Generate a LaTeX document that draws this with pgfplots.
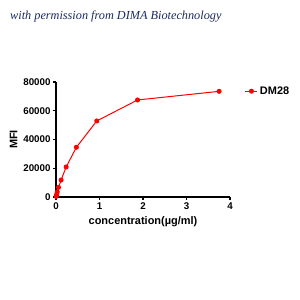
\documentclass[border=0pt]{standalone}
\usepackage{pgfplots}
\pgfplotsset{compat=1.18}
\usepackage{fontspec}
\setmainfont{Liberation Sans}
\newfontfamily\titlefont{Liberation Serif}
\definecolor{navy}{RGB}{28,42,96}
\begin{document}
\begin{tikzpicture}
\useasboundingbox (0,0) rectangle (300bp,300bp);
\node[anchor=west,text=navy,inner sep=0pt] at (10bp,283bp) {\titlefont\itshape\fontsize{12.3}{14}\selectfont with permission from DIMA Biotechnology};
\begin{axis}[
  at={(56bp,103bp)}, anchor=origin,
  scale only axis, width=174bp, height=115bp,
  xmin=0, xmax=4, ymin=0, ymax=80000,
  axis x line*=bottom, axis y line*=left,
  axis line style={line width=1.4bp, -},
  xtick={0,1,2,3,4}, ytick={0,20000,40000,60000,80000},
  tick style={line width=1.2bp, black},
  tick align=outside, major tick length=3bp,
  scaled y ticks=false,
  /pgf/number format/assume math mode=true,
  /pgf/number format/1000 sep={},
  tick label style={font=\bfseries\fontsize{9.8}{11}\selectfont},
  yticklabel style={xshift=1bp},
  xticklabel style={yshift=1bp},
  xlabel={concentration(µg/ml)},
  ylabel={MFI},
  label style={font=\bfseries\fontsize{11}{13}\selectfont},
  xlabel style={yshift=0bp},
  ylabel style={yshift=-1bp},
  clip=false,
  legend style={draw=none, fill=none, at={(1.085,0.92)}, anchor=west,
    font=\bfseries\fontsize{11}{13}\selectfont, inner sep=0pt},
  legend image code/.code={
    \draw[#1, mark=none] (0bp,0bp) -- (12bp,0bp);
    \fill[red] (6bp,0bp) circle (2bp);
  },
]
\addplot[red, line width=1bp, mark=*, mark size=2bp, mark options={solid, fill=red}] coordinates {
(0.00366,400) (0.00732,900) (0.0146,1800) (0.0293,3500) (0.0586,6700) (0.117,11800) (0.234,20900) (0.469,34600) (0.9375,52900) (1.875,67500) (3.75,73500)
};
\addlegendentry{DM28}
\end{axis}
\end{tikzpicture}
\end{document}
